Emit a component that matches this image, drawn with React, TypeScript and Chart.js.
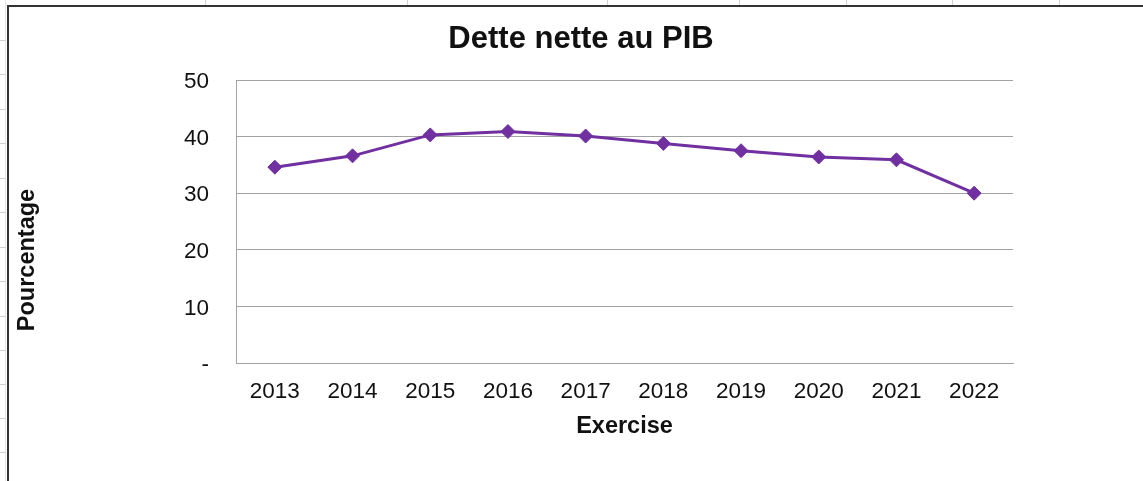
import React, { useEffect, useRef } from 'react';
import { Chart, registerables } from 'chart.js';

Chart.register(...registerables);

// ---- data ----
const categories = ['2013', '2014', '2015', '2016', '2017', '2018', '2019', '2020', '2021', '2022'];
const detteNetteAuPib = [34.6, 36.6, 40.3, 40.9, 40.1, 38.8, 37.5, 36.4, 35.9, 30.0];
const yTickLabels = ['-', '10', '20', '30', '40', '50'];
const chartTitle = 'Dette nette au PIB';
const xAxisTitle = 'Exercise';
const yAxisTitle = 'Pourcentage';

// ---- style ----
const FONT = "'Liberation Sans', Arial, sans-serif";
const PURPLE = '#7030A0';
const GRID = '#a3a3a3';
const TEXT = '#111111';

// spreadsheet decorations (outside the chart)
const sheetColumnTicks = [205, 407, 607, 739, 846, 952, 1059];
const sheetRowTicks = [40, 74, 109, 143, 178, 212, 247, 281, 316, 350, 384, 418, 452];

const yTitlePlugin = {
  id: 'yTitleFixed',
  afterDraw(chart: any) {
    const ctx = chart.ctx as CanvasRenderingContext2D;
    ctx.save();
    ctx.translate(28, 260);
    ctx.rotate(-Math.PI / 2);
    ctx.font = `bold 23.5px ${FONT}`;
    ctx.fillStyle = TEXT;
    ctx.textAlign = 'center';
    ctx.textBaseline = 'middle';
    ctx.fillText(yAxisTitle, 0, 0);
    ctx.restore();
  },
};

export default function App() {
  const canvasRef = useRef<HTMLCanvasElement | null>(null);

  useEffect(() => {
    if (!canvasRef.current) return;
    const chart = new Chart(canvasRef.current, {
      type: 'line',
      data: {
        labels: categories,
        datasets: [
          {
            label: chartTitle,
            data: detteNetteAuPib,
            borderColor: PURPLE,
            backgroundColor: PURPLE,
            borderWidth: 3,
            pointStyle: 'rectRot',
            pointRadius: 7,
            pointBorderWidth: 1,
            pointBackgroundColor: PURPLE,
            pointBorderColor: PURPLE,
            tension: 0,
            fill: false,
          },
        ],
      },
      options: {
        responsive: false,
        animation: false,
        devicePixelRatio: 1,
        layout: { padding: { left: 149, right: 130, top: 0, bottom: 0 } },
        plugins: {
          legend: { display: false },
          tooltip: { enabled: false },
          title: {
            display: true,
            text: chartTitle,
            color: TEXT,
            font: { family: FONT, size: 31, weight: 'bold' },
            padding: { top: 20.6, bottom: 22.2 },
          },
        },
        scales: {
          x: {
            offset: true,
            grid: { display: false, drawTicks: false },
            border: { display: true, color: GRID, width: 1 },
            ticks: {
              color: TEXT,
              font: { family: FONT, size: 22.5 },
              padding: 15.6,
              autoSkip: false,
              maxRotation: 0,
            },
            title: {
              display: true,
              text: xAxisTitle,
              color: TEXT,
              font: { family: FONT, size: 23.5, weight: 'bold' },
              padding: { top: 0, bottom: 40.1 },
            },
            afterFit: (s: any) => {
              s.height = 118;
            },
          },
          y: {
            min: 0,
            max: 50,
            grid: { color: GRID, lineWidth: 1, drawTicks: false },
            border: { display: true, color: GRID, width: 1 },
            ticks: {
              stepSize: 10,
              color: TEXT,
              font: { family: FONT, size: 22.5 },
              padding: 27,
              labelOffset: 2,
              callback: (_v: any, i: number) => yTickLabels[i],
            },
            title: { display: false },
            afterFit: (s: any) => {
              s.width = 87;
            },
          },
        },
      },
      plugins: [yTitlePlugin],
    });
    return () => chart.destroy();
  }, []);

  return (
    <div
      style={{
        position: 'absolute',
        left: 0,
        top: 0,
        width: 1143,
        height: 481,
        overflow: 'hidden',
        background: '#ffffff',
      }}
    >
      <div style={{ position: 'absolute', left: 5, top: 0, width: 1, height: 481, background: '#e6e6e6' }} />
      {sheetColumnTicks.map((x) => (
        <div key={'c' + x} style={{ position: 'absolute', left: x, top: 0, width: 1, height: 5, background: '#d0d0d0' }} />
      ))}
      {sheetRowTicks.map((y) => (
        <div key={'r' + y} style={{ position: 'absolute', left: 0, top: y, width: 6, height: 1, background: '#d0d0d0' }} />
      ))}
      <div
        style={{
          position: 'absolute',
          left: 7,
          top: 5,
          width: 1200,
          height: 600,
          borderTop: '2px solid #333333',
          borderLeft: '2px solid #333333',
        }}
      />
      <canvas
        ref={canvasRef}
        width={1143}
        height={481}
        style={{ position: 'absolute', left: 0, top: 0, width: 1143, height: 481 }}
      />
    </div>
  );
}
